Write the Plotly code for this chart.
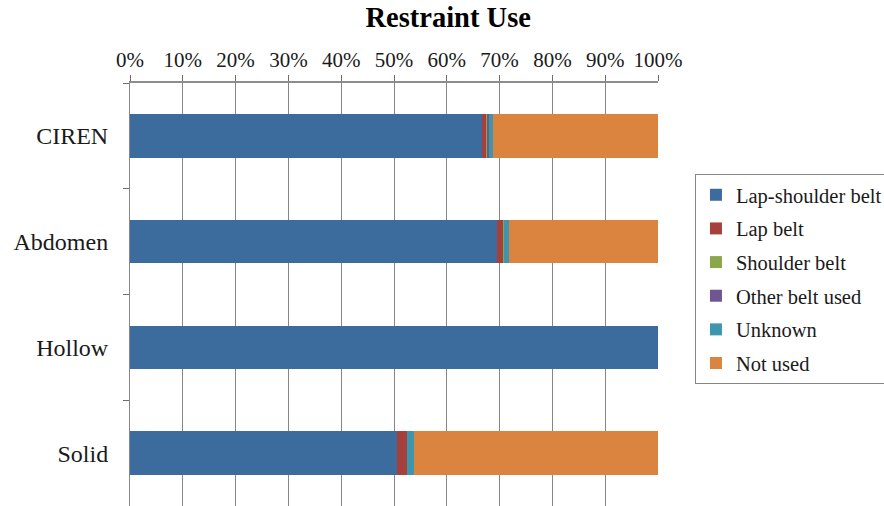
import plotly.graph_objects as go

# Restraint use share (%) by group
groups = ["CIREN", "Abdomen", "Hollow", "Solid"]
lap_shoulder = [66.6, 69.6, 100.0, 50.6]
lap_belt = [1.0, 1.1, 0.0, 1.8]
shoulder_belt = [0.2, 0.1, 0.0, 0.0]
other_belt = [0.1, 0.0, 0.0, 0.0]
unknown = [0.9, 1.0, 0.0, 1.3]
not_used = [31.2, 28.2, 0.0, 46.3]

series = [
    ("Lap-shoulder belt", lap_shoulder, "#3C6C9E"),
    ("Lap belt", lap_belt, "#A6403D"),
    ("Shoulder belt", shoulder_belt, "#8AA84B"),
    ("Other belt used", other_belt, "#6F5690"),
    ("Unknown", unknown, "#3C97AE"),
    ("Not used", not_used, "#DA8440"),
]

FONT = "Liberation Serif, Times New Roman, serif"

fig = go.Figure()
for i, (name, vals, color) in enumerate(series):
    fig.add_trace(go.Bar(
        y=groups, x=vals, name=name, orientation="h",
        marker=dict(color=color, line=dict(width=0)),
        legendgroup=f"g{i}",
    ))

fig.update_layout(
    width=884, height=506,
    barmode="stack", bargap=0.59,
    plot_bgcolor="white", paper_bgcolor="white",
    margin=dict(l=130, r=226, t=83, b=0, autoexpand=False),
    font=dict(family=FONT, size=21, color="#1a1a1a"),
    title=dict(text="<b>Restraint Use</b>", x=0.507, xanchor="center",
               y=0.966, yanchor="middle", font=dict(family=FONT, size=28.5, color="#000")),
    legend=dict(
        x=1.07, xanchor="left", y=0.785, yanchor="top",
        bordercolor="#868686", borderwidth=1,
        font=dict(family=FONT, size=20.5, color="#1a1a1a"),
        tracegroupgap=4, itemwidth=30,
    ),
)
fig.update_xaxes(
    side="top", range=[0, 100], dtick=10, ticksuffix="%",
    showgrid=True, gridcolor="#868686", gridwidth=1,
    showline=True, linecolor="#8c8c8c", linewidth=2,
    ticks="outside", ticklen=6, tickcolor="#6e6e6e",
    tickfont=dict(family=FONT, size=21),
    zeroline=False, fixedrange=True,
)
fig.update_yaxes(
    type="category", categoryorder="array", categoryarray=groups,
    range=[3.5, -0.5],
    showline=True, linecolor="#868686", linewidth=1,
    ticks="outside", ticklen=6, tickcolor="#6e6e6e", tickson="boundaries",
    tickfont=dict(family=FONT, size=24),
    showgrid=False, fixedrange=True, ticklabelstandoff=16,
)

fig.write_html("out.html")
